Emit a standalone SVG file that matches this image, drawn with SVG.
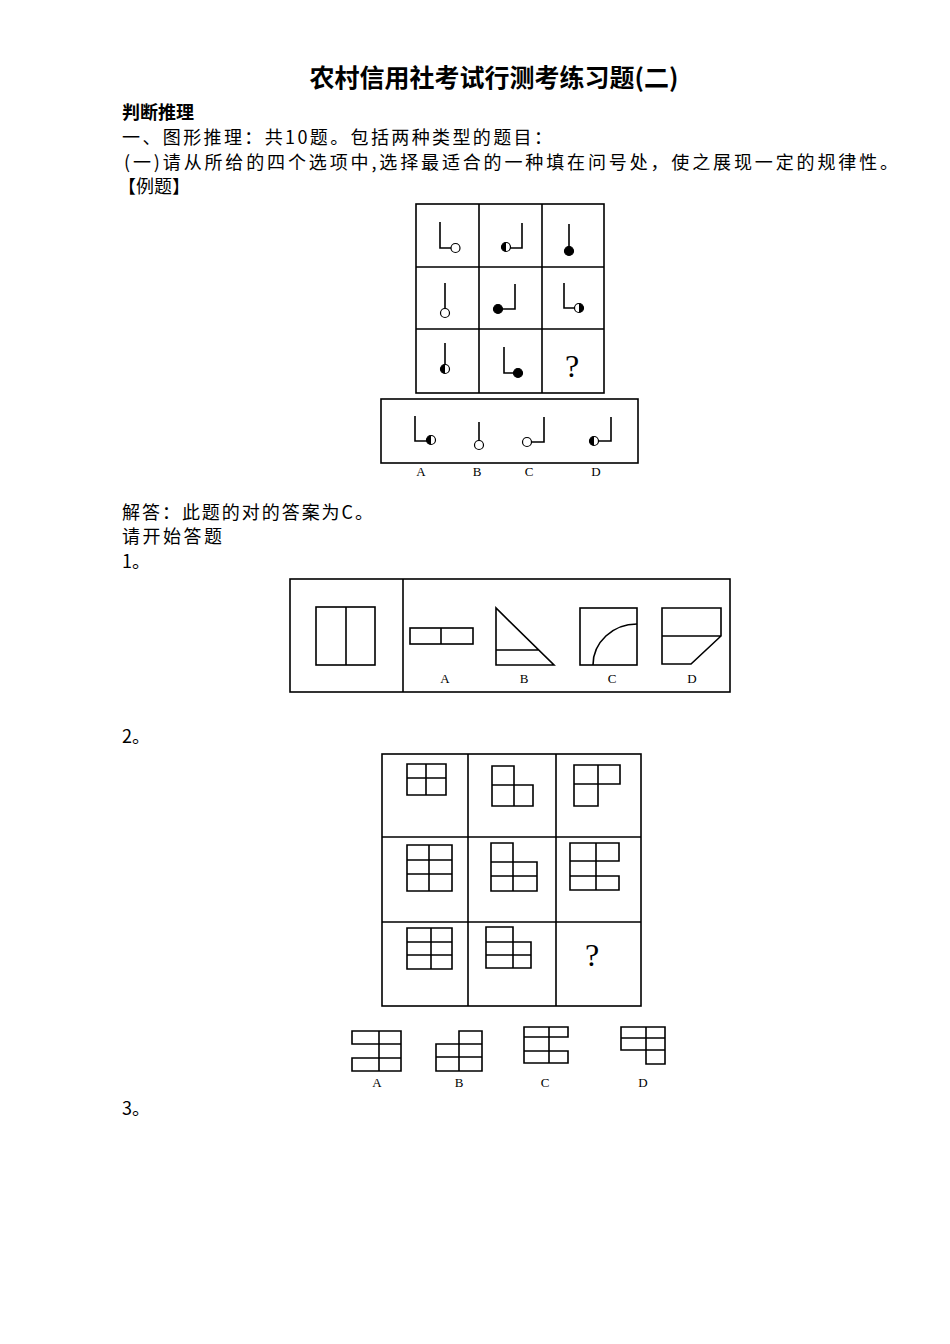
<svg xmlns="http://www.w3.org/2000/svg" width="950" height="1344" viewBox="0 0 950 1344">
<style>
.t{font-family:"Noto Sans CJK SC","Liberation Sans",sans-serif;font-size:18px;fill:#000}
.b{font-weight:bold}
.l{font-family:"Liberation Serif",serif;font-size:13px;fill:#000;text-anchor:middle}
.q{font-family:"Liberation Serif",serif;font-size:32px;fill:#000;text-anchor:middle}
.s{fill:none;stroke:#000;stroke-width:1.6}
.w{fill:#fff;stroke:#000;stroke-width:1.2}
.k{fill:#000;stroke:#000;stroke-width:1.2}
</style>
<defs>
<g id="half"><circle r="4.5" fill="#fff" stroke="#000" stroke-width="1.2"/><path d="M0,-4.5 A4.5,4.5 0 0 0 0,4.5 Z" fill="#000"/></g>
</defs>
<rect width="950" height="1344" fill="#fff"/>
<g id="texts">
<text class="t b" x="494" y="87" text-anchor="middle" style="font-size:25px">农村信用社考试行测考练习题(二)</text>
<text class="t b" x="122" y="119">判断推理</text>
<text class="t" x="122" y="144" textLength="430">一、图形推理：共10题。包括两种类型的题目：</text>
<text class="t" x="124" y="169" textLength="774">(一)请从所给的四个选项中,选择最适合的一种填在问号处，使之展现一定的规律性。</text>
<text class="t" x="118" y="193">【例题】</text>
<text class="t" x="122" y="519" textLength="251">解答：此题的对的答案为C。</text>
<text class="t" x="122" y="543" textLength="100">请开始答题</text>
<text class="t" x="122" y="568">1。</text>
<text class="t" x="122" y="743">2。</text>
<text class="t" x="122" y="1115">3。</text>
</g>
<g id="example">
<rect class="s" x="416" y="204" width="188" height="189"/>
<path class="s" d="M479,204V393M542,204V393M416,267H604M416,329H604"/>
<path class="s" d="M440,222V248H451"/><circle class="w" cx="455.5" cy="248" r="4.5"/>
<path class="s" d="M510,248H522V223"/><use href="#half" x="506" y="247"/>
<path class="s" d="M569,224V248"/><circle class="k" cx="569" cy="251" r="4.5"/>
<path class="s" d="M445,283V309"/><circle class="w" cx="445" cy="313" r="4.5"/>
<path class="s" d="M502,309H515V284"/><circle class="k" cx="498" cy="309" r="4.5"/>
<path class="s" d="M564,283V308H575"/><use href="#half" x="579" y="308" transform="rotate(180 579 308)"/>
<path class="s" d="M445,343V365"/><use href="#half" x="445" y="369"/>
<path class="s" d="M504,347V373H514"/><circle class="k" cx="518" cy="373" r="4.5"/>
<text class="q" x="572" y="377">?</text>
<rect class="s" x="381" y="399" width="257" height="64"/>
<path class="s" d="M415,416V441H427"/><use href="#half" x="431" y="440"/>
<path class="s" d="M479,422V441"/><circle class="w" cx="479" cy="445" r="4.5"/>
<path class="s" d="M531,442H544V417"/><circle class="w" cx="527" cy="442" r="4.5"/>
<path class="s" d="M598,441H611V417"/><use href="#half" x="594" y="441"/>
<text class="l" x="421" y="476">A</text><text class="l" x="477" y="476">B</text><text class="l" x="529" y="476">C</text><text class="l" x="596" y="476">D</text>
</g>
<g id="q1">
<rect class="s" x="290" y="579" width="440" height="113"/>
<path class="s" d="M403,579V692"/>
<rect class="s" x="316" y="607" width="59" height="58"/><path class="s" d="M346,607V665"/>
<rect class="s" x="410" y="628" width="63" height="16"/><path class="s" d="M441,628V644"/>
<path class="s" d="M496,608V665H554Z M496,650H539"/>
<rect class="s" x="580" y="608" width="57" height="57"/><path class="s" d="M593,665A44,41 0 0 1 637,624"/>
<path class="s" d="M662,608H721V636L691,664H662Z M662,636H721"/>
<text class="l" x="445" y="683">A</text><text class="l" x="524" y="683">B</text><text class="l" x="612" y="683">C</text><text class="l" x="692" y="683">D</text>
</g>
<g id="q2">
<rect class="s" x="382" y="754" width="259" height="252"/>
<path class="s" d="M468,754V1006M556,754V1006M382,837H641M382,922H641"/>
<path class="s" d="M407,764H446V795H407Z M426,764V795M407,778H446"/>
<path class="s" d="M492,766H514V785H533V806H492Z M492,785H514V806"/>
<path class="s" d="M574,765H620V784H598V806H574Z M574,784H598V765"/>
<path class="s" d="M407,845H452V891H407Z M429,845V891M407,860H452M407,874H452"/>
<path class="s" d="M491,843H513V862H537V891H491Z M491,862H513V891M491,876H537"/>
<path class="s" d="M570,843H619V861H596V876H619V890H570Z M570,861H596M570,876H596M596,843V890"/>
<path class="s" d="M407,928H452V969H407Z M431,928V969M407,942H452M407,955H452"/>
<path class="s" d="M486,927H513V942H531V968H486Z M486,942H513M513,942V968M486,955H531"/>
<text class="q" x="592" y="966">?</text>
<path class="s" d="M352,1031H401V1071H352V1058H379V1044H352Z M379,1031V1071M379,1044H401M379,1058H401"/>
<path class="s" d="M459,1031H482V1071H436V1044H459Z M459,1044V1071M436,1057H482M459,1044H482"/>
<path class="s" d="M524,1027H568V1037H549V1051H568V1063H524Z M549,1027V1063M524,1037H549M524,1051H549"/>
<path class="s" d="M621,1027H665V1064H646V1050H621Z M646,1027V1050M621,1038H665M646,1050H665"/>
<text class="l" x="377" y="1087">A</text><text class="l" x="459" y="1087">B</text><text class="l" x="545" y="1087">C</text><text class="l" x="643" y="1087">D</text>
</g>
</svg>
